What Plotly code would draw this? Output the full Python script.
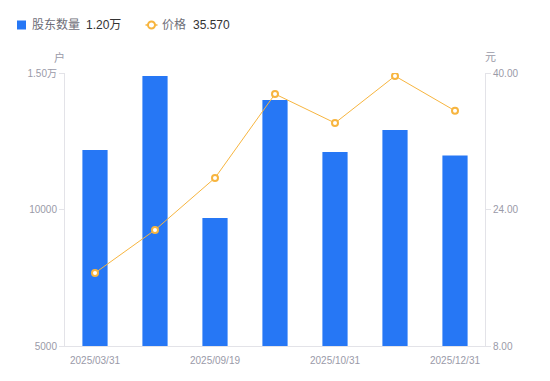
import plotly.graph_objects as go

dates = ["2025/03/31", "2025/06/30", "2025/09/19", "2025/09/30", "2025/10/31", "2025/11/30", "2025/12/31"]
holders = [12180, 14890, 9690, 14010, 12110, 12910, 11980]
prices = [16.56, 21.60, 27.70, 37.54, 34.14, 39.65, 35.57]
shown_dates = ["2025/03/31", "2025/09/19", "2025/10/31", "2025/12/31"]
left_ticks = [5000, 10000, 15000]
left_labels = ["5000", "10000", "1.50万"]
right_ticks = [8, 24, 40]
right_labels = ["8.00", "24.00", "40.00"]

BLUE = "#2677F5"
ORANGE = "#F7B53F"
GRAY = "#9A9AA8"
LEG_GRAY = "#6E6E78"
DARK = "#333333"
AXIS = "#E3E3E8"
FONT = "Liberation Sans, Noto Sans CJK SC, sans-serif"

W, H = 550, 381
ML, MR, MT, MB = 65, 65, 73, 35
PW, PH = W - ML - MR, H - MT - MB


def px(x):
    return (x - ML) / PW


def py(y):
    return (H - MB - y) / PH


fig = go.Figure()
fig.add_trace(go.Bar(
    x=dates, y=holders, marker=dict(color=BLUE, line=dict(width=0)),
    width=0.42, name="股东数量", yaxis="y",
))
fig.add_trace(go.Scatter(
    x=dates, y=prices, mode="lines+markers",
    line=dict(color=ORANGE, width=1),
    marker=dict(symbol="circle", size=6, color="white", line=dict(color=ORANGE, width=2)),
    name="价格", yaxis="y2",
))

last_holders = "%.2f万" % (holders[-1] / 10000)
last_price = "%.3f" % prices[-1]

shapes = [
    dict(type="rect", xref="paper", yref="paper", x0=px(17), x1=px(26), y0=py(29.5), y1=py(20.5),
         fillcolor=BLUE, line=dict(width=0), layer="above"),
    dict(type="line", xref="paper", yref="paper", x0=px(145.5), x1=px(157.5), y0=py(25), y1=py(25),
         line=dict(color=ORANGE, width=1.5), layer="above"),
    dict(type="circle", xref="paper", yref="paper", x0=px(148), x1=px(155), y0=py(28.5), y1=py(21.5),
         fillcolor="white", line=dict(color=ORANGE, width=2), layer="above"),
]

annotations = [
    dict(text="股东数量", x=px(30.5), y=py(25), xanchor="left", yanchor="middle",
         font=dict(size=12, color=LEG_GRAY)),
    dict(text=last_holders, x=px(84.5), y=py(25), xanchor="left", yanchor="middle",
         font=dict(size=12, color=DARK)),
    dict(text="价格", x=px(161), y=py(25), xanchor="left", yanchor="middle",
         font=dict(size=12, color=LEG_GRAY)),
    dict(text=last_price, x=px(191.5), y=py(25), xanchor="left", yanchor="middle",
         font=dict(size=12, color=DARK)),
    dict(text="户", x=px(59.5), y=py(57), xanchor="center", yanchor="middle",
         font=dict(size=11, color=GRAY)),
    dict(text="元", x=px(490), y=py(57), xanchor="center", yanchor="middle",
         font=dict(size=11, color=GRAY)),
]
for a in annotations:
    a.update(xref="paper", yref="paper", showarrow=False, borderpad=0)

fig.update_layout(
    width=W, height=H,
    margin=dict(l=ML, r=MR, t=MT, b=MB, autoexpand=False),
    paper_bgcolor="white", plot_bgcolor="white",
    font=dict(family=FONT, size=11, color=GRAY),
    showlegend=False,
    xaxis=dict(
        type="category", categoryorder="array", categoryarray=dates,
        tickmode="array", tickvals=shown_dates, ticktext=shown_dates,
        showgrid=False, showline=True, linecolor=AXIS, linewidth=1,
        ticks="", ticklabelstandoff=5, tickfont=dict(size=10, color=GRAY), zeroline=False,
    ),
    yaxis=dict(
        range=[5000, 15000], tickvals=left_ticks, ticktext=left_labels,
        showgrid=False, showline=True, linecolor=AXIS, linewidth=1,
        ticks="outside", ticklen=5, tickcolor=AXIS,
        tickfont=dict(size=10, color=GRAY), zeroline=False,
    ),
    yaxis2=dict(
        overlaying="y", side="right",
        range=[8, 40], tickvals=right_ticks, ticktext=right_labels,
        showgrid=False, showline=True, linecolor=AXIS, linewidth=1,
        ticks="outside", ticklen=5, tickcolor=AXIS,
        tickfont=dict(size=10, color=GRAY), zeroline=False,
    ),
    shapes=shapes,
    annotations=annotations,
)

fig.write_html("out.html", config={"displayModeBar": False},
               post_script="document.body.style.margin='0';")
